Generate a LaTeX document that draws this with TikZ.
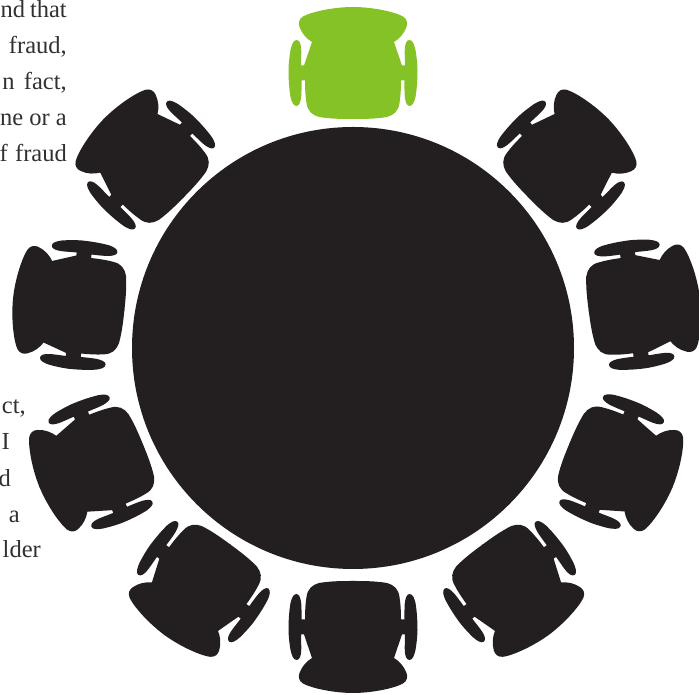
\documentclass[tikz,border=0pt]{standalone}
\usepackage{xcolor}
\usepackage{fontspec}
\setmainfont{Liberation Serif}
\usetikzlibrary{positioning}
\definecolor{seatdark}{RGB}{35,31,32}
\definecolor{seatgreen}{RGB}{133,194,38}
\definecolor{inktext}{RGB}{50,48,48}
\tikzset{bodytext/.style={anchor=base east,inner sep=0pt,text=inktext,font=\fontsize{24.5}{36}\selectfont}}
% one half of a chair, seen from above, back pointing up, origin between the arm links
\newcommand{\halfchair}{(-0.5,66) .. controls (20,66) and (42,61) .. (50,56.5)
  .. controls (54,54) and (55,50) .. (53.5,46) .. controls (51,39) and (46,34) .. (41,31)
  -- (49,7.5) -- (52,7.5) .. controls (52,14) and (51.5,20) .. (51.8,24)
  .. controls (52,29) and (53.5,33) .. (56.5,33) .. controls (60,33) and (61.5,27) .. (62.5,23)
  .. controls (64,14) and (64.5,6) .. (64.5,3) .. controls (64.5,-9) and (63.5,-18) .. (62.5,-24)
  .. controls (61.5,-28) and (60,-33) .. (56.5,-33) .. controls (53.5,-33) and (52.3,-28) .. (51.8,-24)
  .. controls (51.3,-18) and (51.5,-12) .. (51.5,-7.5) -- (48,-7.5)
  .. controls (48,-16) and (47.5,-24) .. (46.5,-30) .. controls (45.5,-38) and (41,-42) .. (34,-44)
  .. controls (22,-46) and (10,-46) .. (-0.5,-46) -- cycle}
\begin{document}
\begin{tikzpicture}[x=1pt,y=1pt]
  \useasboundingbox (0,0) rectangle (699,695);
  \clip (0,0) rectangle (699,695);
  % text behind the table
  \node[bodytext] (upa) at (67,677) {nd\hspace{0.2em}that};
  \node[bodytext] (upb) at (67,641) {fraud,};
  \node[bodytext] (upc) at (67,605) {n\hspace{0.38em}fact,};
  \node[bodytext] (upd) at (67,569) {ne or a};
  \node[bodytext] (upe) at (67,533) {f\hspace{0.3em}fraud};
  \node[bodytext] (lowa) at (26,281) {ct,};
  \node[bodytext] (lowb) at (10,245) {I};
  \node[bodytext] (lowc) at (11,208) {d};
  \node[bodytext] (lowd) at (20,172) {a};
  \node[bodytext] (lowe) at (41,137) {lder};
  % table
  \fill[seatdark] (353,347) circle (221);
  % chairs: x / y / turn / colour
  \foreach \cx/\cy/\turn/\col in {353/622/0/seatgreen,561/530/-45.7/seatdark,634.3/390.3/-82.5/seatdark,
      611.7/233.3/-112.6/seatdark,509.7/113.3/-143.7/seatdark,353/68/180/seatdark,
      203.3/113.3/143.7/seatdark,100.5/233/112.3/seatdark,78.7/390/84/seatdark,151/530/45.6/seatdark}{
    \begin{scope}[shift={(\cx,\cy)},rotate=\turn]
      \fill[\col] \halfchair;
      \fill[\col,xscale=-1] \halfchair;
    \end{scope}
  }
\end{tikzpicture}
\end{document}
